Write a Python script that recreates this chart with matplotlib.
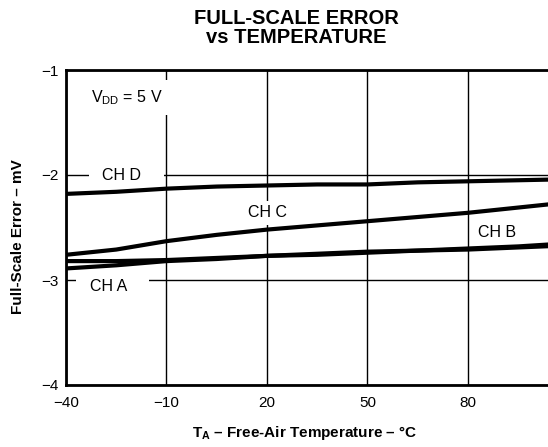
import matplotlib
matplotlib.use("Agg")
import matplotlib.pyplot as plt

plt.rcParams['font.family'] = ['Liberation Sans', 'DejaVu Sans']
plt.rcParams['mathtext.fontset'] = 'custom'
plt.rcParams['mathtext.rm'] = 'Liberation Sans'
plt.rcParams['mathtext.bf'] = 'Liberation Sans:bold'

temps = [-40, -25, -10, 5, 20, 35, 50, 65, 80, 95, 110]
ch_a = [-2.89, -2.86, -2.82, -2.80, -2.77, -2.76, -2.74, -2.72, -2.71, -2.69, -2.67]
ch_b = [-2.82, -2.82, -2.81, -2.79, -2.77, -2.75, -2.73, -2.72, -2.70, -2.68, -2.65]
ch_c = [-2.76, -2.71, -2.63, -2.57, -2.52, -2.48, -2.44, -2.40, -2.36, -2.31, -2.26]
ch_d = [-2.18, -2.16, -2.13, -2.11, -2.10, -2.09, -2.09, -2.07, -2.06, -2.05, -2.04]

x_ticks = [-40, -10, 20, 50, 80]
x_ticklabels = ['\u221240', '\u221210', '20', '50', '80']
y_ticks = [-4, -3, -2, -1]
y_ticklabels = ['\u22124', '\u22123', '\u22122', '\u22121']

W, H = 548, 447
fig = plt.figure(figsize=(W / 100, H / 100), dpi=100)
left_px, right_px, top_px, bot_px = 66, 568.5, 70, 385
ax = fig.add_axes([left_px / W, 1 - bot_px / H, (right_px - left_px) / W, (bot_px - top_px) / H])

for s in (ch_a, ch_b, ch_c, ch_d):
    ax.plot(temps, s, color='black', lw=3.0, solid_joinstyle='round', zorder=3)

ax.set_xlim(-40, 110)
ax.set_ylim(-4, -1)
ax.set_xticks(x_ticks)
ax.set_xticklabels(x_ticklabels)
ax.set_yticks(y_ticks)
ax.set_yticklabels(y_ticklabels)
ax.tick_params(length=0, labelsize=11, colors='black')
ax.tick_params(axis='x', pad=8)
ax.tick_params(axis='y', pad=5)
ax.set_axisbelow(True)
ax.grid(True, color='black', lw=1.0)
for sp in ax.spines.values():
    sp.set_linewidth(2.0)

fs = 11.5
box = dict(facecolor='white', edgecolor='none', boxstyle='square,pad=0.3')
ax.text(-31.8, -2.0, '  CH D    ', fontsize=fs, ha='left', va='center', bbox=box, zorder=2)
ax.text(-35.6, -3.06, '  CH A    ', fontsize=fs, ha='left', va='center', bbox=box, zorder=2)
ax.text(20.0, -2.36, 'CH C', fontsize=fs, ha='center', va='center', bbox=box, zorder=2)
ax.text(88.6, -2.55, 'CH B', fontsize=fs, ha='center', va='center', bbox=box, zorder=2)
ax.text(-32.4, -1.26, r'V$_\mathregular{DD}$ = 5 V', fontsize=fs, ha='left', va='center',
        bbox=dict(facecolor='white', edgecolor='none', boxstyle='square,pad=0.5'), zorder=2)

fig.text(296 / W, 1 - 28 / H, 'FULL-SCALE ERROR\nvs TEMPERATURE', fontsize=14.5, fontweight='bold',
         ha='center', va='center', linespacing=0.95)
fig.text(305 / W, 1 - 433 / H, 'T$_\\mathbf{A}$ \u2013 Free-Air Temperature \u2013 \u00b0C',
         fontsize=11, fontweight='bold', ha='center', va='center')
fig.text(18 / W, 1 - 237 / H, 'Full-Scale Error \u2013 mV', fontsize=11, fontweight='bold',
         ha='center', va='center', rotation=90)

fig.savefig('out.png', dpi=100)
